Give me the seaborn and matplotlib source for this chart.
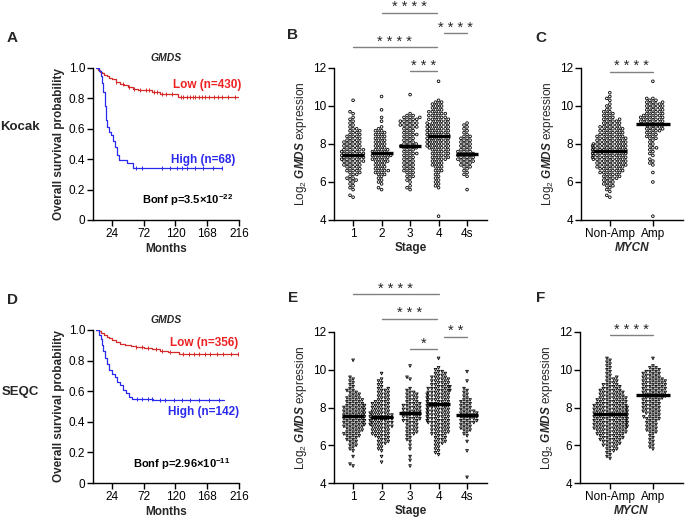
import numpy as np
import pandas as pd
import matplotlib
matplotlib.use("Agg")
import matplotlib.pyplot as plt
import seaborn as sns

# ---------------------------------------------------------
# Survival curves (months, overall survival probability)
# ---------------------------------------------------------
kocak_low_t = [0, 3, 6, 9, 12, 16, 20, 24, 30, 36, 42, 48, 56, 64, 72, 84, 96, 110, 124, 216]
kocak_low_s = [1.0, 0.99, 0.975, 0.965, 0.955, 0.945, 0.935, 0.925, 0.91, 0.895, 0.885, 0.875,
               0.865, 0.858, 0.852, 0.842, 0.832, 0.826, 0.812, 0.812]
kocak_low_cens = [30, 40, 50, 58, 66, 75, 80, 88, 92, 100, 105, 115, 128, 132, 138, 142, 146,
                  150, 156, 160, 165, 170, 178, 184, 190, 200, 210]
kocak_high_t = [0, 4, 7, 9, 11, 13, 15, 17, 20, 23, 26, 29, 31, 34, 46, 56, 191]
kocak_high_s = [1.0, 0.98, 0.95, 0.90, 0.84, 0.75, 0.66, 0.61, 0.58, 0.56, 0.52, 0.48, 0.43,
                0.395, 0.375, 0.345, 0.345]
kocak_high_cens = [60, 70, 100, 112, 122, 130, 138, 150, 162, 176, 191]

seqc_low_t = [0, 4, 8, 12, 16, 20, 24, 30, 36, 44, 52, 60, 72, 84, 96, 108, 120, 126, 216]
seqc_low_s = [1.0, 0.995, 0.98, 0.965, 0.955, 0.945, 0.935, 0.92, 0.91, 0.90, 0.895, 0.89,
              0.885, 0.875, 0.865, 0.858, 0.855, 0.84, 0.84]
seqc_low_cens = [60, 70, 78, 90, 100, 112, 132, 140, 148, 156, 164, 172, 182, 192, 204, 214]
seqc_high_t = [0, 5, 7, 9, 11, 13, 16, 20, 24, 28, 32, 36, 40, 45, 50, 55, 86, 194]
seqc_high_s = [1.0, 0.97, 0.94, 0.90, 0.86, 0.82, 0.78, 0.74, 0.71, 0.69, 0.66, 0.64, 0.61,
               0.585, 0.565, 0.55, 0.54, 0.54]
seqc_high_cens = [62, 70, 78, 84, 96, 104, 118, 130, 142, 156, 170, 186]

# ---------------------------------------------------------
# Log2 GMDS expression: number of samples at each 0.1 level
# ---------------------------------------------------------
levels = [
    4.0, 4.1, 4.2, 4.3, 4.4, 4.5, 4.6, 4.7, 4.8, 4.9,
    5.0, 5.1, 5.2, 5.3, 5.4, 5.5, 5.6, 5.7, 5.8, 5.9,
    6.0, 6.1, 6.2, 6.3, 6.4, 6.5, 6.6, 6.7, 6.8, 6.9,
    7.0, 7.1, 7.2, 7.3, 7.4, 7.5, 7.6, 7.7, 7.8, 7.9,
    8.0, 8.1, 8.2, 8.3, 8.4, 8.5, 8.6, 8.7, 8.8, 8.9,
    9.0, 9.1, 9.2, 9.3, 9.4, 9.5, 9.6, 9.7, 9.8, 9.9,
    10.0, 10.1, 10.2, 10.3, 10.4, 10.5, 10.6, 10.7, 10.8, 10.9,
    11.0, 11.1, 11.2, 11.3, 11.4, 11.5, 11.6, 11.7, 11.8, 11.9,
]

stages = ["1", "2", "3", "4", "4s"]
mycn = ["Non-Amp", "Amp"]

# Kocak by stage
kocak_s1 = [
    0, 0, 0, 0, 0, 0, 0, 0, 0, 0,
    0, 0, 1, 1, 0, 0, 1, 1, 1, 1,
    1, 2, 2, 1, 2, 2, 3, 2, 3, 3,
    3, 4, 4, 4, 4, 4, 4, 4, 3, 3,
    3, 3, 3, 2, 3, 2, 2, 2, 2, 1,
    1, 1, 1, 1, 1, 0, 1, 1, 0, 0,
    0, 0, 0, 1,
]
kocak_s2 = [
    0, 0, 0, 0, 0, 0, 0, 0, 0, 0,
    0, 0, 0, 0, 0, 0, 1, 1, 0, 1,
    1, 1, 1, 1, 2, 2, 3, 2, 2, 2,
    2, 3, 3, 3, 4, 3, 3, 3, 2, 2,
    2, 2, 2, 2, 2, 2, 2, 2, 1, 1,
    0, 0, 1, 0, 1, 0, 0, 0, 1, 0,
    0, 0, 0, 0, 0, 1,
]
kocak_s3 = [
    0, 0, 0, 0, 0, 0, 0, 0, 0, 0,
    0, 0, 0, 0, 0, 0, 1, 1, 1, 0,
    1, 1, 1, 2, 1, 2, 2, 2, 2, 2,
    2, 2, 2, 2, 2, 3, 2, 2, 3, 3,
    3, 2, 2, 2, 2, 3, 2, 2, 2, 3,
    3, 3, 3, 3, 3, 2, 1, 0, 0, 0,
    0, 0, 0, 0, 0, 0, 1,
]
kocak_s4 = [
    0, 0, 1, 0, 0, 0, 0, 0, 0, 0,
    0, 0, 0, 0, 0, 0, 0, 1, 1, 1,
    1, 1, 1, 1, 1, 1, 2, 1, 2, 2,
    2, 2, 3, 3, 3, 3, 3, 3, 4, 4,
    4, 4, 4, 4, 4, 4, 4, 4, 4, 4,
    4, 4, 3, 4, 3, 3, 3, 3, 2, 2,
    2, 2, 2, 1, 0, 0, 0, 0, 0, 0,
    0, 0, 0, 1,
]
kocak_s4s = [
    0, 0, 0, 0, 0, 0, 0, 0, 0, 0,
    0, 0, 0, 0, 0, 0, 1, 0, 0, 0,
    0, 0, 0, 1, 1, 1, 1, 1, 2, 2,
    2, 3, 3, 3, 3, 3, 3, 2, 2, 2,
    2, 2, 2, 2, 2, 1, 1, 1, 1, 1,
    1, 1,
]
kocak_stage_median = [7.4, 7.55, 7.9, 8.4, 7.5]

# Kocak by MYCN status
kocak_nonamp = [
    0, 0, 0, 0, 0, 0, 0, 0, 0, 0,
    0, 0, 1, 1, 0, 1, 1, 1, 2, 2,
    2, 2, 3, 3, 3, 4, 4, 4, 5, 5,
    5, 5, 6, 6, 6, 6, 6, 6, 6, 6,
    6, 5, 5, 5, 5, 4, 4, 4, 4, 4,
    3, 3, 3, 3, 2, 2, 2, 2, 1, 1,
    1, 1, 0, 1, 1, 1, 0, 1,
]
kocak_amp = [
    0, 0, 1, 0, 0, 0, 0, 0, 0, 0,
    0, 0, 0, 0, 0, 0, 0, 0, 0, 0,
    1, 0, 0, 0, 0, 1, 0, 0, 0, 1,
    1, 1, 1, 0, 1, 1, 1, 1, 2, 1,
    1, 1, 1, 2, 2, 2, 2, 3, 3, 3,
    3, 4, 4, 4, 4, 4, 3, 3, 3, 3,
    3, 3, 3, 2, 2, 0, 0, 0, 0, 0,
    0, 0, 0, 1,
]
kocak_mycn_median = [7.65, 9.05]

# SEQC by stage
seqc_s1 = [
    0, 0, 0, 0, 0, 0, 0, 0, 0, 1,
    1, 0, 0, 0, 1, 0, 0, 1, 1, 1,
    2, 1, 2, 2, 2, 3, 3, 3, 3, 3,
    4, 4, 4, 4, 4, 4, 4, 4, 4, 4,
    4, 4, 3, 3, 3, 3, 2, 2, 2, 2,
    1, 1, 1, 1, 1, 1, 1, 0, 0, 0,
    0, 0, 0, 0, 0, 1,
]
seqc_s2 = [
    0, 0, 0, 0, 0, 0, 0, 0, 0, 0,
    0, 1, 0, 0, 1, 0, 0, 1, 1, 1,
    1, 2, 2, 2, 2, 3, 3, 3, 3, 3,
    4, 4, 4, 4, 4, 4, 4, 4, 3, 3,
    3, 3, 3, 3, 2, 2, 2, 2, 2, 2,
    2, 1, 1, 1, 1, 1, 0, 0, 1, 0,
]
seqc_s3 = [
    0, 0, 0, 0, 0, 0, 0, 0, 0, 1,
    0, 0, 1, 0, 1, 0, 0, 0, 1, 0,
    1, 0, 1, 1, 1, 1, 2, 2, 2, 2,
    2, 2, 2, 3, 3, 3, 3, 3, 3, 3,
    3, 3, 3, 2, 2, 2, 2, 2, 2, 1,
    1, 0, 0, 0, 0, 1, 1, 0, 0, 0,
    0, 0, 1,
]
seqc_s4 = [
    0, 0, 0, 0, 0, 0, 0, 0, 0, 0,
    0, 0, 0, 0, 0, 1, 1, 1, 1, 1,
    1, 2, 2, 2, 2, 2, 3, 3, 3, 3,
    3, 3, 4, 4, 4, 4, 4, 4, 4, 4,
    4, 4, 4, 4, 4, 4, 4, 4, 4, 4,
    4, 4, 3, 3, 3, 3, 3, 2, 2, 2,
    1, 1, 0, 0, 0, 0, 1,
]
seqc_s4s = [
    0, 0, 0, 1, 0, 0, 0, 0, 0, 0,
    0, 0, 0, 0, 0, 0, 0, 1, 0, 0,
    0, 0, 1, 0, 0, 1, 1, 1, 2, 2,
    2, 2, 3, 3, 3, 3, 3, 3, 3, 2,
    2, 2, 2, 2, 2, 1, 1, 1, 1, 1,
    1, 0, 0, 0, 1, 0, 0, 0, 0, 1,
]
seqc_stage_median = [7.55, 7.5, 7.7, 8.2, 7.6]

# SEQC by MYCN status
seqc_nonamp = [
    0, 0, 0, 0, 0, 0, 0, 0, 0, 0,
    0, 0, 0, 1, 1, 1, 1, 2, 2, 2,
    3, 3, 3, 4, 4, 4, 5, 5, 5, 6,
    6, 6, 6, 6, 6, 6, 6, 6, 6, 6,
    6, 6, 5, 5, 5, 5, 4, 4, 4, 4,
    3, 3, 3, 2, 2, 2, 2, 1, 1, 1,
    1, 1, 1, 1, 1, 1, 1,
]
seqc_amp = [
    0, 0, 0, 0, 0, 0, 0, 0, 0, 0,
    0, 0, 0, 0, 0, 0, 0, 0, 1, 1,
    1, 1, 1, 1, 1, 1, 1, 2, 2, 2,
    2, 2, 2, 2, 3, 3, 2, 3, 3, 3,
    3, 3, 3, 3, 3, 4, 4, 4, 4, 4,
    4, 4, 4, 4, 4, 4, 3, 3, 3, 3,
    2, 2, 1, 0, 0, 0, 1,
]
seqc_mycn_median = [7.65, 8.65]

# ---------------------------------------------------------
# Helpers
# ---------------------------------------------------------
def expand(counts):
    return np.repeat(levels[:len(counts)], counts)


def long_table(names, groups):
    vals = [expand(c) for c in groups]
    return pd.DataFrame({
        "group": np.concatenate([[n] * len(v) for n, v in zip(names, vals)]),
        "value": np.concatenate(vals),
    })


RED_LINE = "#d42a2a"
RED_TXT = "#ee2222"
BLUE = "#2a2aee"
BAR_GREY = "#808080"
FS = 8.5


def step_value(t, s, x):
    idx = np.searchsorted(t, x, side="right") - 1
    return np.asarray(s)[idx]


def km_panel(ax, low, high, low_lab, high_lab, pval, pos):
    for (t, s, cens), col in [(low, RED_LINE), (high, BLUE)]:
        sns.lineplot(x=t, y=s, estimator=None, sort=False, drawstyle="steps-post",
                     color=col, linewidth=0.9, ax=ax)
        sns.scatterplot(x=cens, y=step_value(t, s, cens), marker="|", s=10,
                        color=col, linewidth=0.7, ax=ax, zorder=4)
    ax.set_xlim(-4.7, 216)
    ax.set_ylim(0, 1)
    ax.set_xticks([24, 72, 120, 168, 216])
    ax.set_yticks([0, 0.2, 0.4, 0.6, 0.8, 1.0])
    ax.set_yticklabels(["0", "0.2", "0.4", "0.6", "0.8", "1.0"])
    ax.set_xlabel("Months", fontweight="bold", fontsize=FS, labelpad=2)
    ax.set_ylabel("Overall survival probability", fontweight="bold", fontsize=FS, labelpad=3)
    ax.set_title("GMDS", fontstyle="italic", fontweight="bold", fontsize=7.5, pad=5)
    ax.text(*pos[0], low_lab, color=RED_TXT, fontweight="bold", fontsize=FS,
            va="center", clip_on=False)
    ax.text(*pos[1], high_lab, color=BLUE, fontweight="bold", fontsize=FS,
            va="center", clip_on=False)
    ax.text(*pos[2], pval, color="black", fontweight="bold", fontsize=8, va="center")


def swarm_panel(ax, names, groups, medians, marker, xlabel, italic, xlim, bars):
    df = long_table(names, groups)
    sns.swarmplot(data=df, x="group", y="value", order=names, ax=ax, marker=marker,
                  size=1.9, facecolor="none", edgecolor="black", linewidth=0.6,
                  warn_thresh=1)
    sns.pointplot(x=names, y=medians, order=names, ax=ax, color="black", marker="_",
                  linestyle="none", errorbar=None,
                  markersize=16 if len(names) > 2 else 25, markeredgewidth=2.4, zorder=6)
    ax.set_ylim(4, 12)
    ax.set_yticks([4, 6, 8, 10, 12])
    ax.set_xlim(*xlim)
    ax.set_ylabel(r"Log$_2$ $\mathbfit{GMDS}$ expression", fontsize=FS, labelpad=3)
    ax.set_xlabel(xlabel, fontweight="bold", fontsize=FS,
                  fontstyle="italic" if italic else "normal", labelpad=1)
    for x0, x1, y, stars in bars:
        ax.plot([x0, x1], [y, y], color=BAR_GREY, lw=1, clip_on=False)
        ax.text((x0 + x1) / 2, y + 0.08, stars, ha="center", va="baseline",
                fontsize=10.5, clip_on=False)


# ---------------------------------------------------------
# Figure
# ---------------------------------------------------------
sns.set_theme(style="ticks")
plt.rcParams["font.family"] = ["Liberation Sans", "DejaVu Sans"]
plt.rcParams["mathtext.fontset"] = "custom"
plt.rcParams["mathtext.rm"] = "Liberation Sans"
plt.rcParams["mathtext.it"] = "Liberation Sans:italic"
plt.rcParams["mathtext.bf"] = "Liberation Sans:bold"
plt.rcParams["mathtext.bfit"] = "Liberation Sans:italic:bold"
plt.rcParams["axes.linewidth"] = 1.0
plt.rcParams["xtick.major.width"] = 1.0
plt.rcParams["ytick.major.width"] = 1.0
plt.rcParams["xtick.major.size"] = 4
plt.rcParams["ytick.major.size"] = 4
plt.rcParams["xtick.major.pad"] = 2
plt.rcParams["ytick.major.pad"] = 1.5
plt.rcParams["xtick.labelsize"] = FS
plt.rcParams["ytick.labelsize"] = FS
plt.rcParams["xtick.color"] = "black"
plt.rcParams["ytick.color"] = "black"
plt.rcParams["axes.edgecolor"] = "black"

W, H = 685, 527
fig = plt.figure(figsize=(W / 100, H / 100), dpi=100)


def rect(l, r, t, b):
    return [l / W, 1 - b / H, (r - l) / W, (b - t) / H]


ax_a = fig.add_axes(rect(93, 239, 68, 220))
ax_b = fig.add_axes(rect(334, 487, 68, 220))
ax_c = fig.add_axes(rect(581, 683, 68, 220))
ax_d = fig.add_axes(rect(93, 239, 330, 483))
ax_e = fig.add_axes(rect(334, 487, 332, 483))
ax_f = fig.add_axes(rect(580, 683, 332, 483))

km_panel(ax_a, (kocak_low_t, kocak_low_s, kocak_low_cens),
         (kocak_high_t, kocak_high_s, kocak_high_cens),
         "Low (n=430)", "High (n=68)", r"Bonf p=3.5×10$^{\mathbf{-22}}$",
         [(116, 0.888), (113, 0.395), (69, 0.13)])
km_panel(ax_d, (seqc_low_t, seqc_low_s, seqc_low_cens),
         (seqc_high_t, seqc_high_s, seqc_high_cens),
         "Low (n=356)", "High (n=142)", r"Bonf p=2.96×10$^{\mathbf{-11}}$",
         [(111, 0.913), (109, 0.466), (56, 0.122)])

swarm_panel(ax_b, stages, [kocak_s1, kocak_s2, kocak_s3, kocak_s4, kocak_s4s],
            kocak_stage_median, "o", "Stage", False, (-0.67, 4.7),
            [(0, 2.93, 13.1, "* * * *"), (1, 2.93, 14.9, "* * * *"),
             (2, 2.93, 11.84, "* * *"), (3.18, 4.0, 13.84, "* * * *")])
swarm_panel(ax_c, mycn, [kocak_nonamp, kocak_amp], kocak_mycn_median, "o",
            "MYCN", True, (-0.67, 1.7), [(0, 1, 11.79, "* * * *")])
swarm_panel(ax_e, stages, [seqc_s1, seqc_s2, seqc_s3, seqc_s4, seqc_s4s],
            seqc_stage_median, "v", "Stage", False, (-0.67, 4.7),
            [(0, 3.0, 14.0, "* * * *"), (1, 2.93, 12.69, "* * *"),
             (2, 2.93, 11.1, "*"), (3.18, 4.0, 11.74, "* *")])
swarm_panel(ax_f, mycn, [seqc_nonamp, seqc_amp], seqc_mycn_median, "v",
            "MYCN", True, (-0.7, 1.7), [(0, 1, 11.84, "* * * *")])

for ax in [ax_a, ax_b, ax_c, ax_d, ax_e, ax_f]:
    sns.despine(ax=ax)

for letter, x, y in [("A", 12, 38), ("B", 293, 35), ("C", 541, 38),
                     ("D", 12, 300), ("E", 293, 298), ("F", 541, 298)]:
    fig.text(x / W, 1 - y / H, letter, fontsize=11, fontweight="bold",
             ha="center", va="center")
fig.text(20 / W, 1 - 127 / H, "Kocak", fontsize=9.5, fontweight="bold", ha="center", va="center")
fig.text(20 / W, 1 - 392 / H, "SEQC", fontsize=9.5, fontweight="bold", ha="center", va="center")

fig.savefig("out.png", dpi=100)
